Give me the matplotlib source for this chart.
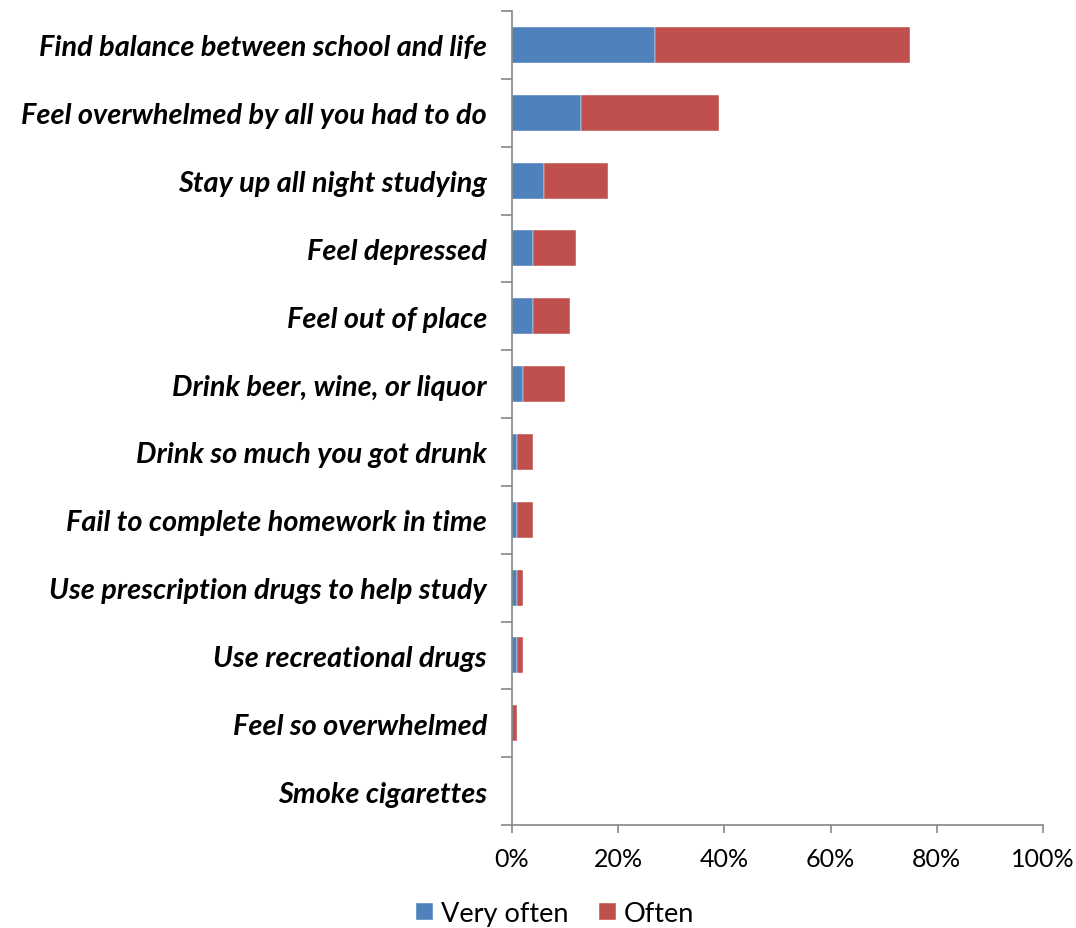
import matplotlib
matplotlib.use("Agg")
import matplotlib.pyplot as plt
import numpy as np
from matplotlib.ticker import FixedLocator, PercentFormatter

categories = [
    "Find balance between school and life",
    "Feel overwhelmed by all you had to do",
    "Stay up all night studying",
    "Feel depressed",
    "Feel out of place",
    "Drink beer, wine, or liquor",
    "Drink so much you got drunk",
    "Fail to complete homework in time",
    "Use prescription drugs to help study",
    "Use recreational drugs",
    "Feel so overwhelmed",
    "Smoke cigarettes",
]
very_often = [27, 13, 6, 4, 4, 2, 1, 1, 1, 1, 0, 0]
often = [48, 26, 12, 8, 7, 8, 3, 3, 1, 1, 1, 0]
x_ticks = [0, 20, 40, 60, 80, 100]

plt.rcParams['font.family'] = ['Lato', 'DejaVu Sans']

fig = plt.figure(figsize=(10.76, 9.29), dpi=100)
ax = fig.add_axes([512/1076, 1-826/929, (1043-512)/1076, (826-12)/929])

n = len(categories)
y = np.arange(n)
blue = "#4F81BD"
red = "#C0504D"
ax.barh(y, very_often, height=0.53, color=blue, label="Very often", edgecolor="white", linewidth=0.3)
ax.barh(y, often, left=very_often, height=0.53, color=red, label="Often", edgecolor="white", linewidth=0.3)

ax.set_ylim(n - 0.5, -0.5)
ax.set_xlim(0, 100)
ax.set_yticks(y)
ax.set_yticklabels(categories, fontsize=20.8, fontweight="bold", fontstyle="italic")
ax.tick_params(axis="y", which="major", length=0, pad=18)
ax.yaxis.set_minor_locator(FixedLocator(np.arange(-0.5, n, 1.0)))
ax.tick_params(axis="y", which="minor", length=8, color="#868686", width=1.2)

ax.set_xticks(x_ticks)
ax.xaxis.set_major_formatter(PercentFormatter(decimals=0))
ax.tick_params(axis="x", length=6, color="#868686", width=1.2, labelsize=18, pad=10)

for s in ["top", "right"]:
    ax.spines[s].set_visible(False)
for s in ["left", "bottom"]:
    ax.spines[s].set_color("#868686")
    ax.spines[s].set_linewidth(1.2)

fig.legend(loc="lower center", bbox_to_anchor=(0.516, -0.024), ncol=2, frameon=False,
           fontsize=19.5, handlelength=0.6, handleheight=0.6, handletextpad=0.3, columnspacing=1.15)

fig.savefig("out.png", dpi=100)
